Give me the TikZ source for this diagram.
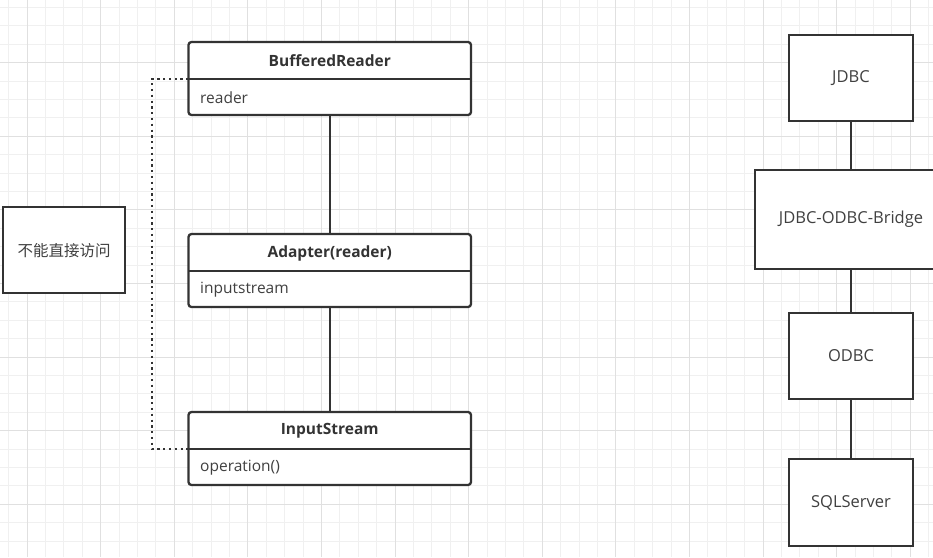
\documentclass[tikz,border=0pt]{standalone}
\usepackage{fontspec}
\setmainfont{Open Sans}
\newfontfamily\cjk{Noto Sans CJK SC}
\definecolor{linec}{HTML}{333333}
\definecolor{txtc}{HTML}{404040}
\definecolor{gridminor}{HTML}{F0F0F0}
\definecolor{gridmajor}{HTML}{E0E0E0}
\tikzset{
  classbox/.style={draw=linec, line width=2.3pt, rounded corners=3pt, fill=white,
    minimum width=282.5pt, minimum height=73pt, inner sep=0pt},
  plainbox/.style={draw=linec, line width=2.4pt, fill=white, inner sep=0pt},
  conn/.style={draw=linec, line width=2.3pt},
  sepline/.style={draw=linec, line width=2.3pt},
  dotline/.style={draw=linec, line width=2.3pt, dash pattern=on 2.3pt off 3.5pt},
  hdr/.style={font=\fontsize{15.5}{18}\selectfont\bfseries, text=linec, inner sep=0pt},
  fld/.style={font=\fontsize{15.5}{18}\selectfont, text=txtc, anchor=west, inner sep=0pt},
  lbl/.style={font=\fontsize{16.5}{19}\selectfont, text=txtc},
}
\begin{document}
\begin{tikzpicture}[x=1pt,y=-1pt]
\useasboundingbox (0,0) rectangle (933,557);
\clip (0,0) rectangle (933,557);
\fill[white] (0,0) rectangle (933,557);
% grid
\foreach \i in {0,...,51} {
  \draw[gridminor, line width=1pt] ({8.7+18.4*\i},0) -- ({8.7+18.4*\i},557);
}
\foreach \j in {0,...,31} {
  \draw[gridminor, line width=1pt] (0,{7.5+18.4*\j}) -- (933,{7.5+18.4*\j});
}
\foreach \i in {0,...,12} {
  \draw[gridmajor, line width=1pt] ({27.1+73.6*\i},0) -- ({27.1+73.6*\i},557);
}
\foreach \j in {0,...,7} {
  \draw[gridmajor, line width=1pt] (0,{62.7+73.6*\j}) -- (933,{62.7+73.6*\j});
}

% class boxes and connectors
\node[classbox] (br) at (329.75,78.5) {};
\node[classbox] (ad) at (329.75,270.5) {};
\node[classbox] (is) at (329.75,448.5) {};
\draw[conn] (br.south) -- (ad.north);
\draw[conn] (ad.south) -- (is.north);

% separators
\coordinate (brsl) at (188.5,79);  \coordinate (brsr) at (471,79);
\coordinate (adsl) at (188.5,271); \coordinate (adsr) at (471,271);
\coordinate (issl) at (188.5,449); \coordinate (issr) at (471,449);
\draw[sepline] (brsl) -- (brsr);
\draw[sepline] (adsl) -- (adsr);
\draw[sepline] (issl) -- (issr);

% texts
\node[hdr] (brh) at (329.75,61) {BufferedReader};
\node[fld] (brf) at (200,97.5) {reader};
\node[hdr] (adh) at (329.75,253) {Adapter(reader)};
\node[fld] (adf) at (200,289.5) {inputstream};
\node[hdr] (ish) at (329.75,431) {InputStream};
\node[fld] (isf) at (200,467.5) {operation()};

% dotted link
\coordinate (dtop) at (152,79);
\coordinate (dbot) at (152,449);
\draw[dotline] (brsl) -- (dtop) -- (dbot) -- (issl);

% note box
\node[plainbox, minimum width=122pt, minimum height=86pt] (note) at (64,250) {};
\node[font=\cjk\fontsize{15.5}{18}\selectfont, text=txtc] (notet) at (64,251) {不能直接访问};

% right column
\node[plainbox, minimum width=124pt, minimum height=86pt, lbl] (jdbc) at (851,78) {JDBC};
\node[plainbox, minimum width=192pt, minimum height=99pt, lbl] (bridge) at (851,219.5) {JDBC-ODBC-Bridge};
\node[plainbox, minimum width=124pt, minimum height=86pt, lbl] (odbc) at (851,356) {ODBC};
\node[plainbox, minimum width=124pt, minimum height=87pt, lbl] (sql) at (851,502.5) {SQLServer};
\draw[conn] (jdbc.south) -- (bridge.north);
\draw[conn] (bridge.south) -- (odbc.north);
\draw[conn] (odbc.south) -- (sql.north);
\end{tikzpicture}
\end{document}
